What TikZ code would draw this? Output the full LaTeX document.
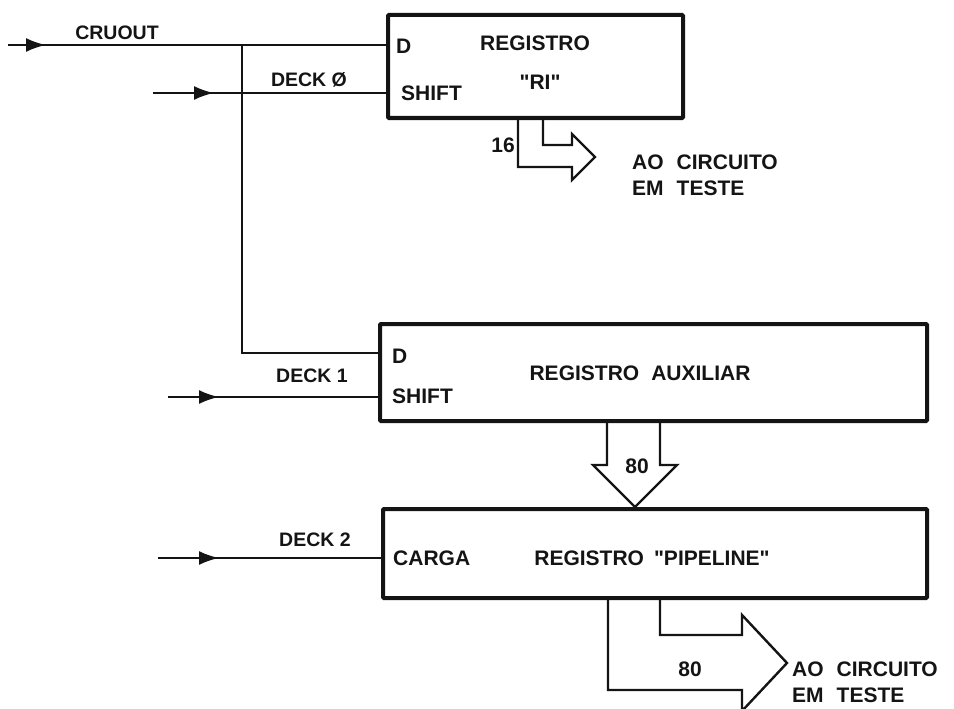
\documentclass[tikz,border=0pt]{standalone}
\usepackage{fontspec}
\setmainfont{Liberation Sans}
\usetikzlibrary{arrows.meta,decorations.markings,positioning}
\definecolor{ink}{RGB}{20,20,20}
\tikzset{
  reg/.style={draw=ink,line width=4pt,rounded corners=1pt,inner sep=0pt},
  wire/.style={ink,line width=2.4pt},
  bus/.style={ink,line width=2.4pt,line join=miter},
  lbl/.style={ink,font=\bfseries\fontsize{21}{26}\selectfont,inner sep=0pt},
  siglbl/.style={ink,font=\bfseries\fontsize{19.5}{24}\selectfont,inner sep=0pt},
  inarrow/.style={postaction={decorate},decoration={markings,
    mark=at position #1 with {\arrow{Latex[length=20pt,width=14pt]}}}}
}
\newcommand{\qd}{\textquotedbl}

\begin{document}
\begin{tikzpicture}[x=1pt,y=-1pt]
  \useasboundingbox (0,0) rectangle (954,709);
  % registers
  \node[reg,minimum width=295pt,minimum height=103pt] (ri) at (535.5,66.5) {};
  \node[reg,minimum width=547pt,minimum height=97pt] (aux) at (653.5,372.5) {};
  \node[reg,minimum width=544pt,minimum height=89pt] (pipe) at (655,553.5) {};
  \node[lbl,anchor=west] (riD) at (396,46) {D};
  \node[lbl,anchor=west] (riS) at (401,93) {SHIFT};
  \node[lbl] (riname) at (535,43) {REGISTRO};
  \node[lbl] (rinick) at (540,82) {\qd RI\qd};
  \node[lbl,anchor=west] (auxD) at (392,356) {D};
  \node[lbl,anchor=west] (auxS) at (392,396) {SHIFT};
  \node[lbl] (auxname) at (640,373) {REGISTRO\hspace{12pt}AUXILIAR};
  \node[lbl,anchor=west] (pipeC) at (393,558) {CARGA};
  \node[lbl] (pipename) at (652,558) {REGISTRO\hspace{10pt}\qd PIPELINE\qd};
  % input wires
  \coordinate (cruin) at (8,45);
  \coordinate (d0in) at (153,93);
  \coordinate (d1in) at (168,397);
  \coordinate (d2in) at (158,558);
  \coordinate (jn) at (242,45);
  \draw[wire,inarrow=38pt] (cruin) -- (ri.west |- cruin);
  \draw[wire,inarrow=61pt] (d0in) -- (ri.west |- d0in);
  \draw[wire] (jn) |- ([yshift=19.5pt]aux.west);
  \draw[wire,inarrow=51pt] (d1in) -- (aux.west |- d1in);
  \draw[wire,inarrow=61pt] (d2in) -- (pipe.west |- d2in);
  \node[siglbl] (cruout) at (117,33) {CRUOUT};
  \node[siglbl] (deck0) at (309,80) {DECK Ø};
  \node[siglbl] (deck1) at (312,376) {DECK 1};
  \node[siglbl] (deck2) at (315,540) {DECK 2};
  % buses
  \coordinate (auxtip) at ([xshift=-20pt]pipe.north);
  \draw[bus] ([xshift=-17.5pt]ri.south) -- (518,167) -- (572,167) -- (572,180)
    -- (595,157) -- (572,134) -- (572,145) -- (543,145) -- ([xshift=7.5pt]ri.south);
  \draw[bus] ([xshift=-46.5pt]aux.south) -- (607,465) -- (593,465) -- (auxtip)
    -- (677,465) -- (660,465) -- ([xshift=6.5pt]aux.south);
  \draw[bus] ([xshift=-47pt]pipe.south) -- (608,690) -- (742,690) -- (742,711)
    -- (787,663) -- (742,615) -- (742,635) -- (660,635) -- ([xshift=5pt]pipe.south);
  \node[lbl] (ribits) at (503,145) {16};
  \node[lbl] (auxbits) at (637,466) {80};
  \node[lbl] (pipebits) at (690,669) {80};
  \node[lbl,anchor=west,align=left] (riout) at (632,175) {AO\hspace{13pt}CIRCUITO\\EM\hspace{13pt}TESTE};
  \node[lbl,anchor=west,align=left] (pipeout) at (792,682) {AO\hspace{13pt}CIRCUITO\\EM\hspace{13pt}TESTE};
\end{tikzpicture}
\end{document}
